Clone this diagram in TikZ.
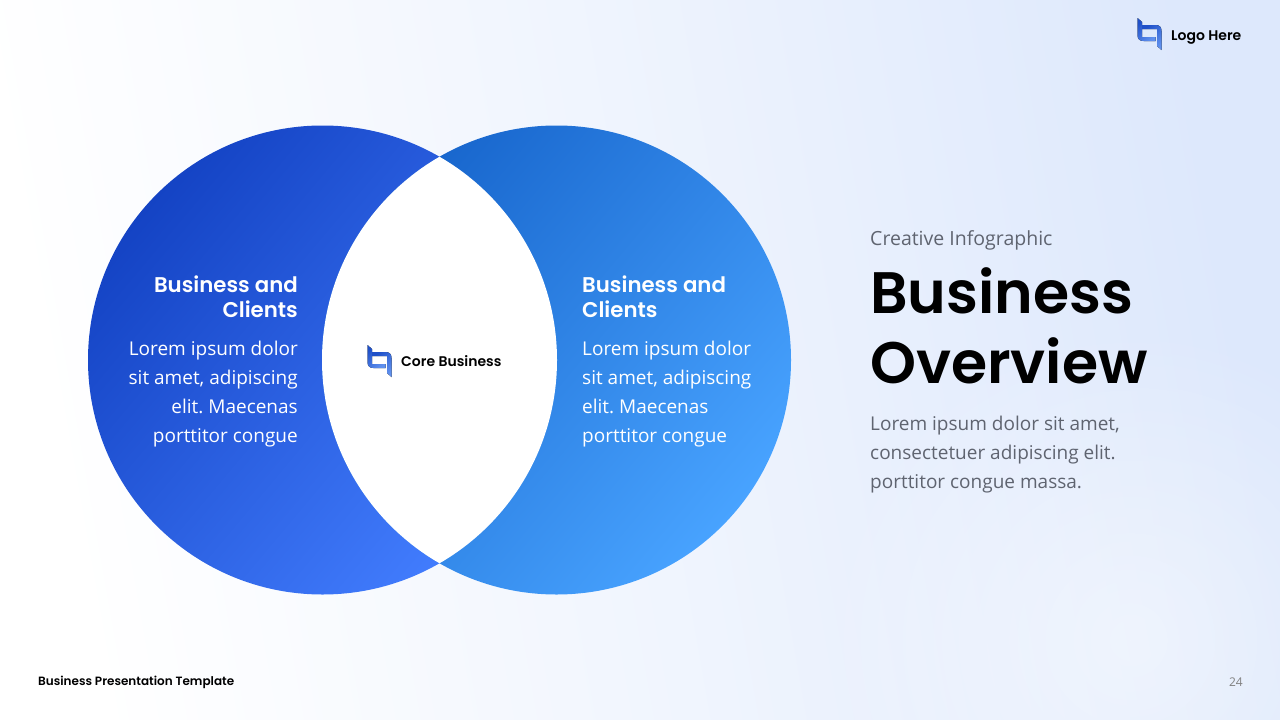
\documentclass[tikz,border=0pt]{standalone}
\usepackage{fontspec}
\setmainfont{Open Sans}
\newfontfamily\pop{Poppins}
\newfontfamily\popm{Poppins Medium}
\newfontfamily\pops{Poppins SemiBold}
\usetikzlibrary{fadings}
\definecolor{bgA}{HTML}{FFFFFF}
\definecolor{bgB}{HTML}{DDE8FC}
\definecolor{leftA}{HTML}{1443C4}
\definecolor{leftB}{HTML}{437EFF}
\definecolor{rightA}{HTML}{1765CC}
\definecolor{rightB}{HTML}{48A3FF}
\definecolor{greyT}{HTML}{5F6470}
\definecolor{logoA}{HTML}{1F50C8}
\definecolor{logoB}{HTML}{5F90EE}
\tikzfading[name=glowfade,inner color=transparent!55,outer color=transparent!100]
\frenchspacing
\tikzset{
  x=1pt,y=-1pt,
  headL/.style={font=\pops\fontsize{21.3}{25}\selectfont,text=white,align=right,anchor=north east,inner sep=0pt},
  headR/.style={font=\pops\fontsize{21.3}{25}\selectfont,text=white,align=left,anchor=north west,inner sep=0pt},
  bodyL/.style={font=\fontsize{19}{29}\selectfont,text=white,align=right,anchor=north east,inner sep=0pt},
  bodyR/.style={font=\fontsize{19}{29}\selectfont,text=white,align=left,anchor=north west,inner sep=0pt},
  logo/.pic={
    \fill[left color=logoA,right color=logoB,shading angle=45]
      (0,0) -- (4.5,4) -- (4.5,19) -- (18,19) -- (18,23) -- (6,23)
      .. controls (2,23) and (0,21) .. (0,17) -- cycle;
    \fill[left color=logoA,right color=logoB,shading angle=45]
      (4.5,7) -- (18,7) .. controls (22,7) and (24,9) .. (24,13) -- (24,32) -- (19.5,28) -- (19.5,11) -- (4.5,11) -- cycle;
  }
}
\begin{document}
\begin{tikzpicture}
\path[use as bounding box,left color=bgA,right color=bgB,middle color=bgB!45!white,shading angle=100] (0,0) rectangle (1280,720);
\begin{scope}
  \clip (0,0) rectangle (1280,720);
  \fill[white,path fading=glowfade] (1130,640) circle[radius=320];
\end{scope}
\path[left color=leftA,right color=leftB,shading angle=50] (322.5,360) circle[radius=234.5];
\path[left color=rightA,right color=rightB,shading angle=50] (556.5,360) circle[radius=234.5];
\begin{scope}
  \clip (322.5,360) circle[radius=234.5];
  \fill[white] (556.5,360) circle[radius=234.5];
\end{scope}
\node[headL] (hl) at (298,276) {Business and\\Clients};
\node[headR] (hr) at (582,276) {Business and\\Clients};
\node[bodyL] (bl) at (298,341) {Lorem ipsum dolor\\sit amet, adipiscing\\elit. Maecenas\\porttitor congue};
\node[bodyR] (br) at (582,341) {Lorem ipsum dolor\\sit amet, adipiscing\\elit. Maecenas\\porttitor congue};
\pic at (367.5,345) {logo};
\pic at (1137.5,18) {logo};
\node[font=\pops\fontsize{14}{16}\selectfont,anchor=west,inner sep=0pt] (core) at (401,361) {Core Business};
\node[font=\pops\fontsize{14}{16}\selectfont,anchor=west,inner sep=0pt] (lh) at (1171,37.5) {Logo Here};
\node[font=\fontsize{19.5}{24}\selectfont,text=greyT,anchor=west,inner sep=0pt] (ci) at (870,240) {Creative Infographic};
\node[font=\pops\fontsize{58.5}{70.5}\selectfont,anchor=north west,align=left,inner sep=0pt] (ttl) at (870,267) {Business\\Overview};
\node[font=\fontsize{19}{29}\selectfont,text=greyT,anchor=north west,align=left,inner sep=0pt] (dsc) at (870,416) {Lorem ipsum dolor sit amet,\\consectetuer adipiscing elit.\\porttitor congue massa.};
\node[font=\pops\fontsize{12}{15}\selectfont,anchor=west,inner sep=0pt] (ft) at (38,682) {Business Presentation Template};
\node[font=\fontsize{12}{14}\selectfont,text=gray,anchor=east,inner sep=0pt] (pg) at (1243,682) {24};
\end{tikzpicture}
\end{document}
